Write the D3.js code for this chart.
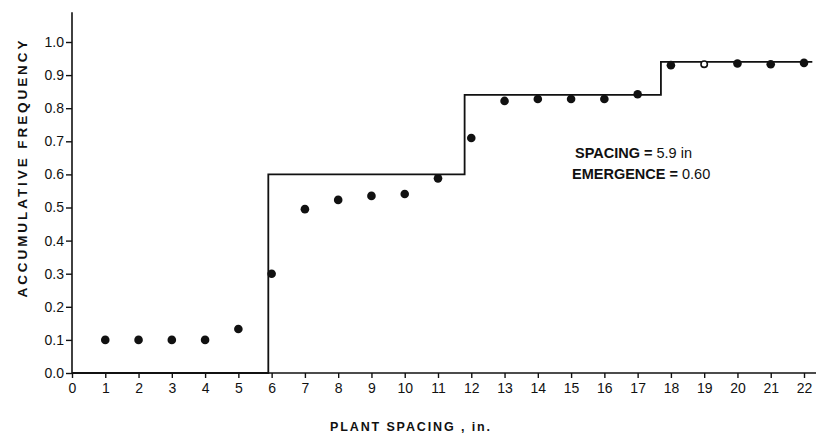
<!DOCTYPE html>
<html><head><meta charset="utf-8">
<script src="https://cdn.jsdelivr.net/npm/d3@7"></script>
<style>
body{margin:0;background:#fff;}
svg{display:block;font-family:"Liberation Sans",Arial,sans-serif;}
</style></head>
<body>
<svg id="c" width="816" height="436"></svg>
<script>
// Observed data: plant spacing (in.) vs accumulative frequency
const spacing = [1,2,3,4,5,6,7,8,9,10,11,12,13,14,15,16,17,18,19,20,21,22];
const freq = [0.10,0.10,0.10,0.10,0.133,0.30,0.495,0.523,0.535,0.541,0.588,0.71,0.822,0.828,0.828,0.828,0.842,0.93,0.933,0.935,0.933,0.937];
const openPoint = [19]; // drawn as open circle
// Theoretical step function (x breakpoints, level)
const stepX = [0,5.9,11.8,17.7,22.25];
const stepY = [0,0.6,0.84,0.94];
const xTicks = d3.range(0,23);
const yTicks = [0,0.1,0.2,0.3,0.4,0.5,0.6,0.7,0.8,0.9,1.0];
const yTitle = "ACCUMULATIVE  FREQUENCY";
const xTitle = "PLANT  SPACING , in.";
const note1 = ["SPACING", " = ", "5.9 in"];
const note2 = ["EMERGENCE", " = ", "0.60"];

const svg = d3.select("#c");
const x = d3.scaleLinear().domain([0,22]).range([72,804]);
const y = d3.scaleLinear().domain([0,1]).range([373,42]);
const ink = "#111";

// axes
const xAxis = svg.append("g").attr("transform",`translate(0,${y(0)})`)
  .call(d3.axisBottom(x).tickValues(xTicks).tickFormat(d3.format("d")).tickSize(5).tickPadding(5).tickSizeOuter(0));
xAxis.select(".domain").remove();
svg.append("line").attr("x1",x(0)).attr("x2",816).attr("y1",y(0)).attr("y2",y(0)).attr("stroke",ink).attr("stroke-width",1.6);
const yAxis = svg.append("g").attr("transform",`translate(${x(0)},0)`)
  .call(d3.axisLeft(y).tickValues(yTicks).tickFormat(d3.format(".1f")).tickSize(6).tickPadding(2).tickSizeOuter(0));
yAxis.select(".domain").remove();
svg.append("line").attr("x1",x(0)).attr("x2",x(0)).attr("y1",y(0)).attr("y2",y(1.09)).attr("stroke",ink).attr("stroke-width",1.6);
svg.selectAll(".tick line").attr("stroke",ink).attr("stroke-width",1.4);
svg.selectAll(".tick text").attr("fill",ink).attr("font-size",14);

// step line
const stepPts = [];
for (let i=0;i<stepY.length;i++){ stepPts.push([stepX[i],stepY[i]]); stepPts.push([stepX[i+1],stepY[i]]); }
svg.append("path").datum(stepPts)
  .attr("d",d3.line().x(d=>x(d[0])).y(d=>y(d[1])))
  .attr("fill","none").attr("stroke",ink).attr("stroke-width",1.8);

// points
svg.selectAll("circle.pt").data(spacing.map((s,i)=>({s,v:freq[i]}))).join("circle")
  .attr("class","pt").attr("cx",d=>x(d.s)).attr("cy",d=>y(d.v)).attr("r",d=>openPoint.includes(d.s)?3.2:4.3)
  .attr("fill",d=>openPoint.includes(d.s)?"#fff":ink)
  .attr("stroke",ink).attr("stroke-width",d=>openPoint.includes(d.s)?1.6:0);

// titles
svg.append("text").attr("transform","translate(22,169) rotate(-90)").attr("text-anchor","middle")
  .attr("font-weight","bold").attr("font-size",13.5).attr("fill",ink)
  .attr("textLength",257).attr("lengthAdjust","spacing").attr("dy","0.35em").text(yTitle);
svg.append("text").attr("x",410).attr("y",431).attr("text-anchor","middle")
  .attr("font-weight","bold").attr("font-size",12.5).attr("fill",ink)
  .attr("textLength",160).attr("lengthAdjust","spacing").text(xTitle);

// annotation
function note(parts,xx,yy){
  const t = svg.append("text").attr("x",xx).attr("y",yy).attr("font-size",14.5).attr("fill",ink);
  t.append("tspan").attr("font-weight","bold").text(parts[0]);
  t.append("tspan").attr("font-weight","bold").text(parts[1]);
  t.append("tspan").text(parts[2]);
}
note(note1,575,158);
note(note2,572,179);
</script>
</body></html>
